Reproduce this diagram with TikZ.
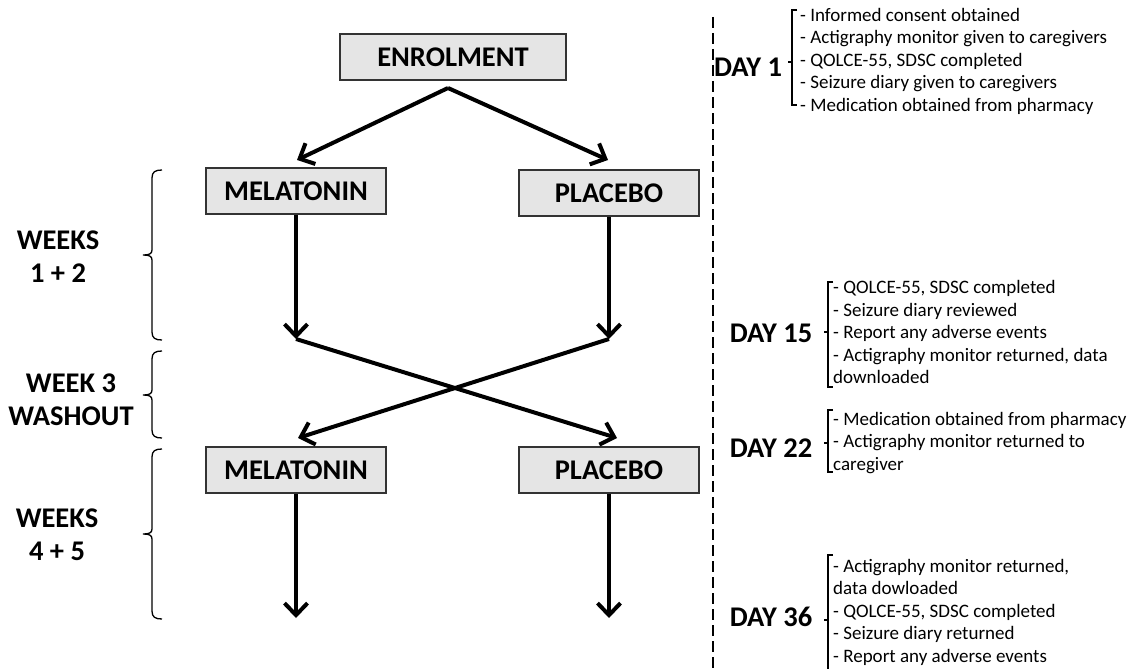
\documentclass[tikz,border=0pt]{standalone}
\usepackage{fontspec}
\setmainfont{Carlito}
\usetikzlibrary{arrows.meta}

\newcommand{\weekbrace}[3]{%
  \draw[line width=1.3pt] (162,#1) .. controls (155,#1) and (152,#1+2) .. (152,#1+8)
    -- (152,#2-5) .. controls (152,#2-1) and (149,#2) .. (143,#2)
    .. controls (149,#2) and (152,#2+1) .. (152,#2+5)
    -- (152,#3-8) .. controls (152,#3-2) and (155,#3) .. (162,#3);}
\newcommand{\daybracket}[4]{%
  \draw[line width=1.2pt] (#1+5,#2) -- (#1,#2) -- (#1,#4) -- (#1+5,#4);
  \draw[line width=1.2pt] (#1,#3) -- (#1-4,#3);}

\begin{document}
\begin{tikzpicture}[x=1pt,y=-1pt,
    box/.style={draw=black!80,line width=1.5pt,fill=black!10,minimum height=46pt,
      inner sep=0pt,font=\bfseries\fontsize{28.5}{33}\selectfont},
    period/.style={align=center,font=\bfseries\fontsize{28.5}{33}\selectfont},
    day/.style={font=\bfseries\fontsize{28.5}{33}\selectfont},
    tasks/.style={anchor=west,align=left,inner sep=0pt,font=\fontsize{19}{22.5}\selectfont},
    flow/.style={line width=4pt,-{Straight Barb[length=12pt,width=23pt]}}]
      \useasboundingbox (0,0) rectangle (1130,669);

      \node[box,minimum width=226pt] (enrol)  at (453,57)  {ENROLMENT};
      \node[box,minimum width=180pt] (mel-a)  at (296,191) {MELATONIN};
      \node[box,minimum width=180pt] (plac-a) at (609,193) {PLACEBO};
      \node[box,minimum width=180pt] (mel-b)  at (296,470) {MELATONIN};
      \node[box,minimum width=180pt] (plac-b) at (609,470) {PLACEBO};

      \coordinate (split)    at (448,88);
      \coordinate (mel-in)   at (297,160);
      \coordinate (plac-in)  at (608,160);
      \coordinate (mel-mid)  at (296,339);
      \coordinate (plac-mid) at (609,339);
      \coordinate (mel-x)    at (298,438);
      \coordinate (plac-x)   at (617,438);
      \coordinate (mel-end)  at (296,618);
      \coordinate (plac-end) at (609,618);

      \draw[flow] (split)    -- (mel-in);
      \draw[flow] (split)    -- (plac-in);
      \draw[flow] (mel-a)    -- (mel-mid);
      \draw[flow] (plac-a)   -- (plac-mid);
      \draw[flow] (mel-mid)  -- (plac-x);
      \draw[flow] (plac-mid) -- (mel-x);
      \draw[flow] (mel-b)    -- (mel-end);
      \draw[flow] (plac-b)   -- (plac-end);

      \node[period] (weeks-a) at (58,257) {WEEKS\\1 + 2};
      \node[period] (washout) at (71,400) {WEEK 3\\WASHOUT};
      \node[period] (weeks-b) at (57,535) {WEEKS\\4 + 5};
      \weekbrace{170}{255}{340}
      \weekbrace{351}{395}{438}
      \weekbrace{449}{534}{619}

      \draw[line width=1.5pt,dash pattern=on 11pt off 5pt] (713,17) -- (713,669);

      \node[day] (day-1)  at (748,67)  {DAY 1};
      \node[day] (day-15) at (771,333) {DAY 15};
      \node[day] (day-22) at (771,448) {DAY 22};
      \node[day] (day-36) at (771,617) {DAY 36};

      \daybracket{792}{10}{62}{105}
      \daybracket{828}{282}{332}{387}
      \daybracket{828}{410}{443}{472}
      \daybracket{828}{555}{620}{685}

      \node[tasks] (tasks-1) at (800,61) {- Informed consent obtained\\
        - Actigraphy monitor given to caregivers\\- QOLCE-55, SDSC completed\\
        - Seizure diary given to caregivers\\- Medication obtained from pharmacy};
      \node[tasks] (tasks-15) at (833,332) {- QOLCE-55, SDSC completed\\
        - Seizure diary reviewed\\- Report any adverse events\\
        - Actigraphy monitor returned, data\\downloaded};
      \node[tasks] (tasks-22) at (833,443) {- Medication obtained from pharmacy\\
        - Actigraphy monitor returned to\\caregiver};
      \node[tasks] (tasks-36) at (833,612) {- Actigraphy monitor returned,\\
        data dowloaded\\- QOLCE-55, SDSC completed\\
        - Seizure diary returned\\- Report any adverse events};
    \end{tikzpicture}
\end{document}
